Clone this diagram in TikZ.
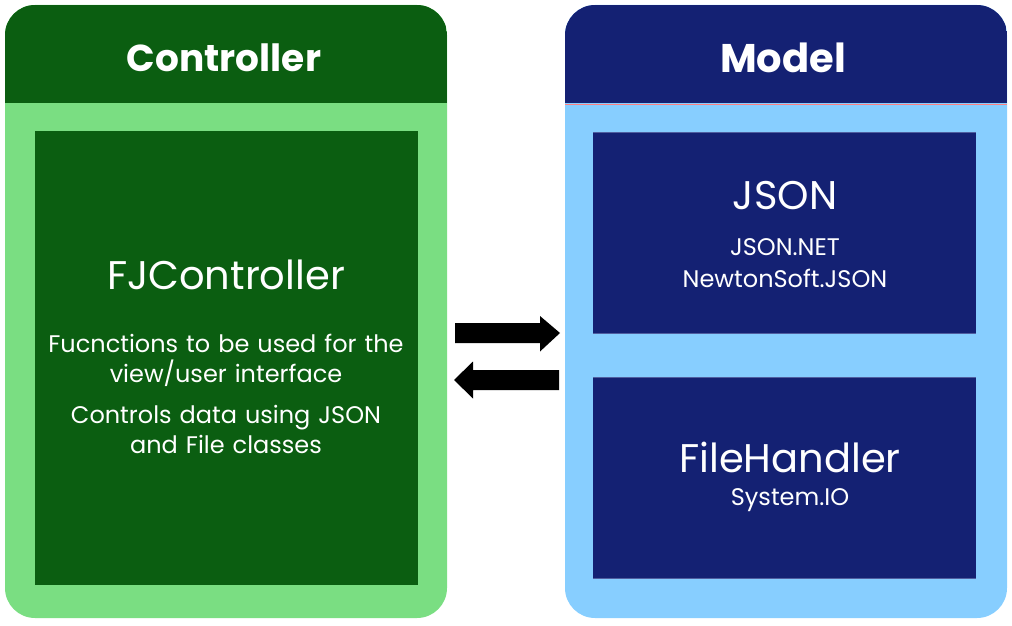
\documentclass[tikz,border=0pt]{standalone}
\usepackage{fontspec}
\setmainfont{Poppins}
\definecolor{dkgreen}{RGB}{11,94,17}
\definecolor{ltgreen}{RGB}{122,222,130}
\definecolor{navy}{RGB}{20,33,115}
\definecolor{ltblue}{RGB}{135,206,255}
\definecolor{navyedge}{RGB}{80,95,160}
\newcommand{\fs}[2]{\fontsize{#1}{#2}\selectfont}
\tikzset{
  txt/.style={text=white, inner sep=0pt, anchor=center, align=center},
  arrowfill/.style={fill=black},
}
\begin{document}
\begin{tikzpicture}[x=1pt,y=-1pt]
\useasboundingbox (0,0) rectangle (1012,626);
% ---- Controller panel
\fill[ltgreen, rounded corners=30pt] (5,5) rectangle (447,618);
\begin{scope}
  \clip[rounded corners=30pt] (5,5) rectangle (447,618);
  \fill[dkgreen] (5,5) rectangle (447,103);
\end{scope}
\fill[dkgreen] (35,131) rectangle (418,585);
\node[txt, font=\bfseries\fs{37.5}{40}] (ctrlhdr) at (224,58) {Controller};
\node[txt, font=\fs{40}{44}] (fjc) at (226,275) {FJController};
\node[txt, font=\fs{24}{30}, text width=380pt] (fjd1) at (226,360) {Fucnctions to be used for the\\view/user interface};
\node[txt, font=\fs{24}{30}, text width=380pt] (fjd2) at (226,429.5) {Controls data using JSON\\and File classes};
% ---- Model panel
\fill[ltblue, rounded corners=30pt] (565,5) rectangle (1007,618);
\begin{scope}
  \clip[rounded corners=30pt] (565,5) rectangle (1007,618);
  \fill[navy] (565,5) rectangle (1007,103);
\end{scope}
\draw[red!50!white, line width=0.8pt] (565,104) -- (1007,104);
\fill[navy] (593,132) rectangle (976,334);
\draw[navyedge, line width=1pt] (593,132.5) -- (976,132.5) (593,333.5) -- (976,333.5);
\fill[navy] (593,377) rectangle (976,579);
\draw[navyedge, line width=1pt] (593,377.5) -- (976,377.5) (593,578.5) -- (976,578.5);
\node[txt, font=\bfseries\fs{40}{44}] (modelhdr) at (783,58) {Model};
\node[txt, font=\fs{40}{44}] (json) at (785,196) {JSON};
\node[txt, font=\fs{24}{30}] (jsonnet) at (785,247) {JSON.NET};
\node[txt, font=\fs{24}{30}] (newton) at (785,278) {NewtonSoft.JSON};
\node[txt, font=\fs{40}{44}] (fh) at (790,457) {FileHandler};
\node[txt, font=\fs{24}{30}] (sysio) at (790,500) {System.IO};
% ---- Arrows
\coordinate (r0) at (455,333);
\coordinate (r1) at (560,333);
\coordinate (l0) at (559,380);
\coordinate (l1) at (454,380);
\fill[arrowfill] (r0) ++(0,-10) -- ++(85,0) -- ++(0,-7) -- (r1) -- ++(-20,18.5) -- ++(0,-8.5) -- ++(-85,0) -- cycle;
\fill[arrowfill] (l0) ++(0,-10) -- ++(-86,0) -- ++(0,-8.5) -- (l1) -- ++(19,18.5) -- ++(0,-8.5) -- ++(86,0) -- cycle;
\end{tikzpicture}
\end{document}
